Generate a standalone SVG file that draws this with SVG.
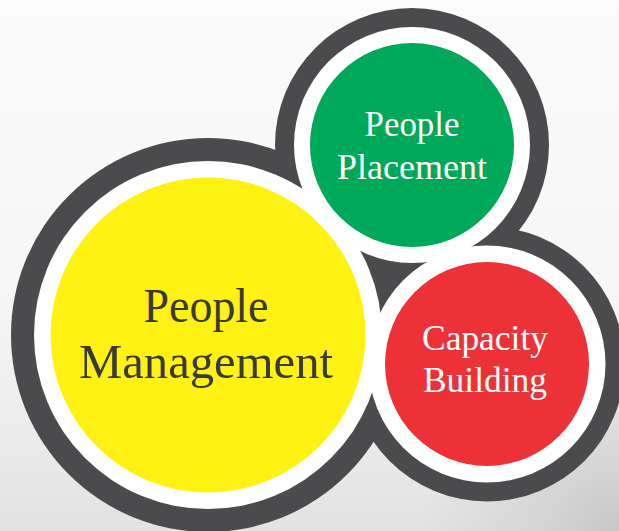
<svg xmlns="http://www.w3.org/2000/svg" width="619" height="531" viewBox="0 0 619 531">
  <defs>
    <linearGradient id="bg" x1="0" y1="0" x2="0" y2="1">
      <stop offset="0" stop-color="#fbfbfb"/>
      <stop offset="0.55" stop-color="#f6f6f6"/>
      <stop offset="0.8" stop-color="#ececec"/>
      <stop offset="1" stop-color="#e2e2e2"/>
    </linearGradient>
    <radialGradient id="shade" cx="619" cy="531" r="200" gradientUnits="userSpaceOnUse">
      <stop offset="0" stop-color="#c4c4c4" stop-opacity="0.9"/>
      <stop offset="1" stop-color="#d0d0d0" stop-opacity="0"/>
    </radialGradient>
    <style>
      .frame { fill: #4b4b4d; }
      .ring { fill: #ffffff; }
      .label { font-family: "Liberation Serif", "Times New Roman", serif; text-anchor: middle; }
      .big { font-size: 48px; fill: #3a3a3a; }
      .small { font-size: 36px; fill: #ffffff; }
    </style>
  </defs>
  <rect width="619" height="531" fill="url(#bg)"/>
  <rect width="619" height="531" fill="url(#shade)"/>

  <g id="frame">
    <circle class="frame" cx="208" cy="335" r="197"/>
    <circle class="frame" cx="412" cy="145" r="137"/>
    <circle class="frame" cx="487" cy="364" r="137.5"/>
  </g>

  <g id="people-management">
    <circle class="ring" cx="208" cy="335" r="174"/>
    <circle cx="208" cy="335" r="157.5" fill="#fff212"/>
    <text class="label big" x="206" y="322" textLength="125" lengthAdjust="spacingAndGlyphs">People</text>
    <text class="label big" x="206" y="378" textLength="254" lengthAdjust="spacingAndGlyphs">Management</text>
  </g>

  <g id="people-placement">
    <circle class="ring" cx="412" cy="145" r="118"/>
    <circle cx="412" cy="145" r="102" fill="#00a85a"/>
    <text class="label small" x="412" y="136" textLength="95" lengthAdjust="spacingAndGlyphs">People</text>
    <text class="label small" x="412" y="179" textLength="150" lengthAdjust="spacingAndGlyphs">Placement</text>
  </g>

  <g id="capacity-building">
    <circle class="ring" cx="487" cy="364" r="118.5"/>
    <circle cx="487" cy="364" r="102" fill="#ed3237"/>
    <text class="label small" x="485" y="350" textLength="126" lengthAdjust="spacingAndGlyphs">Capacity</text>
    <text class="label small" x="485" y="392" textLength="124" lengthAdjust="spacingAndGlyphs">Building</text>
  </g>

  <g id="connectors"/>
</svg>
